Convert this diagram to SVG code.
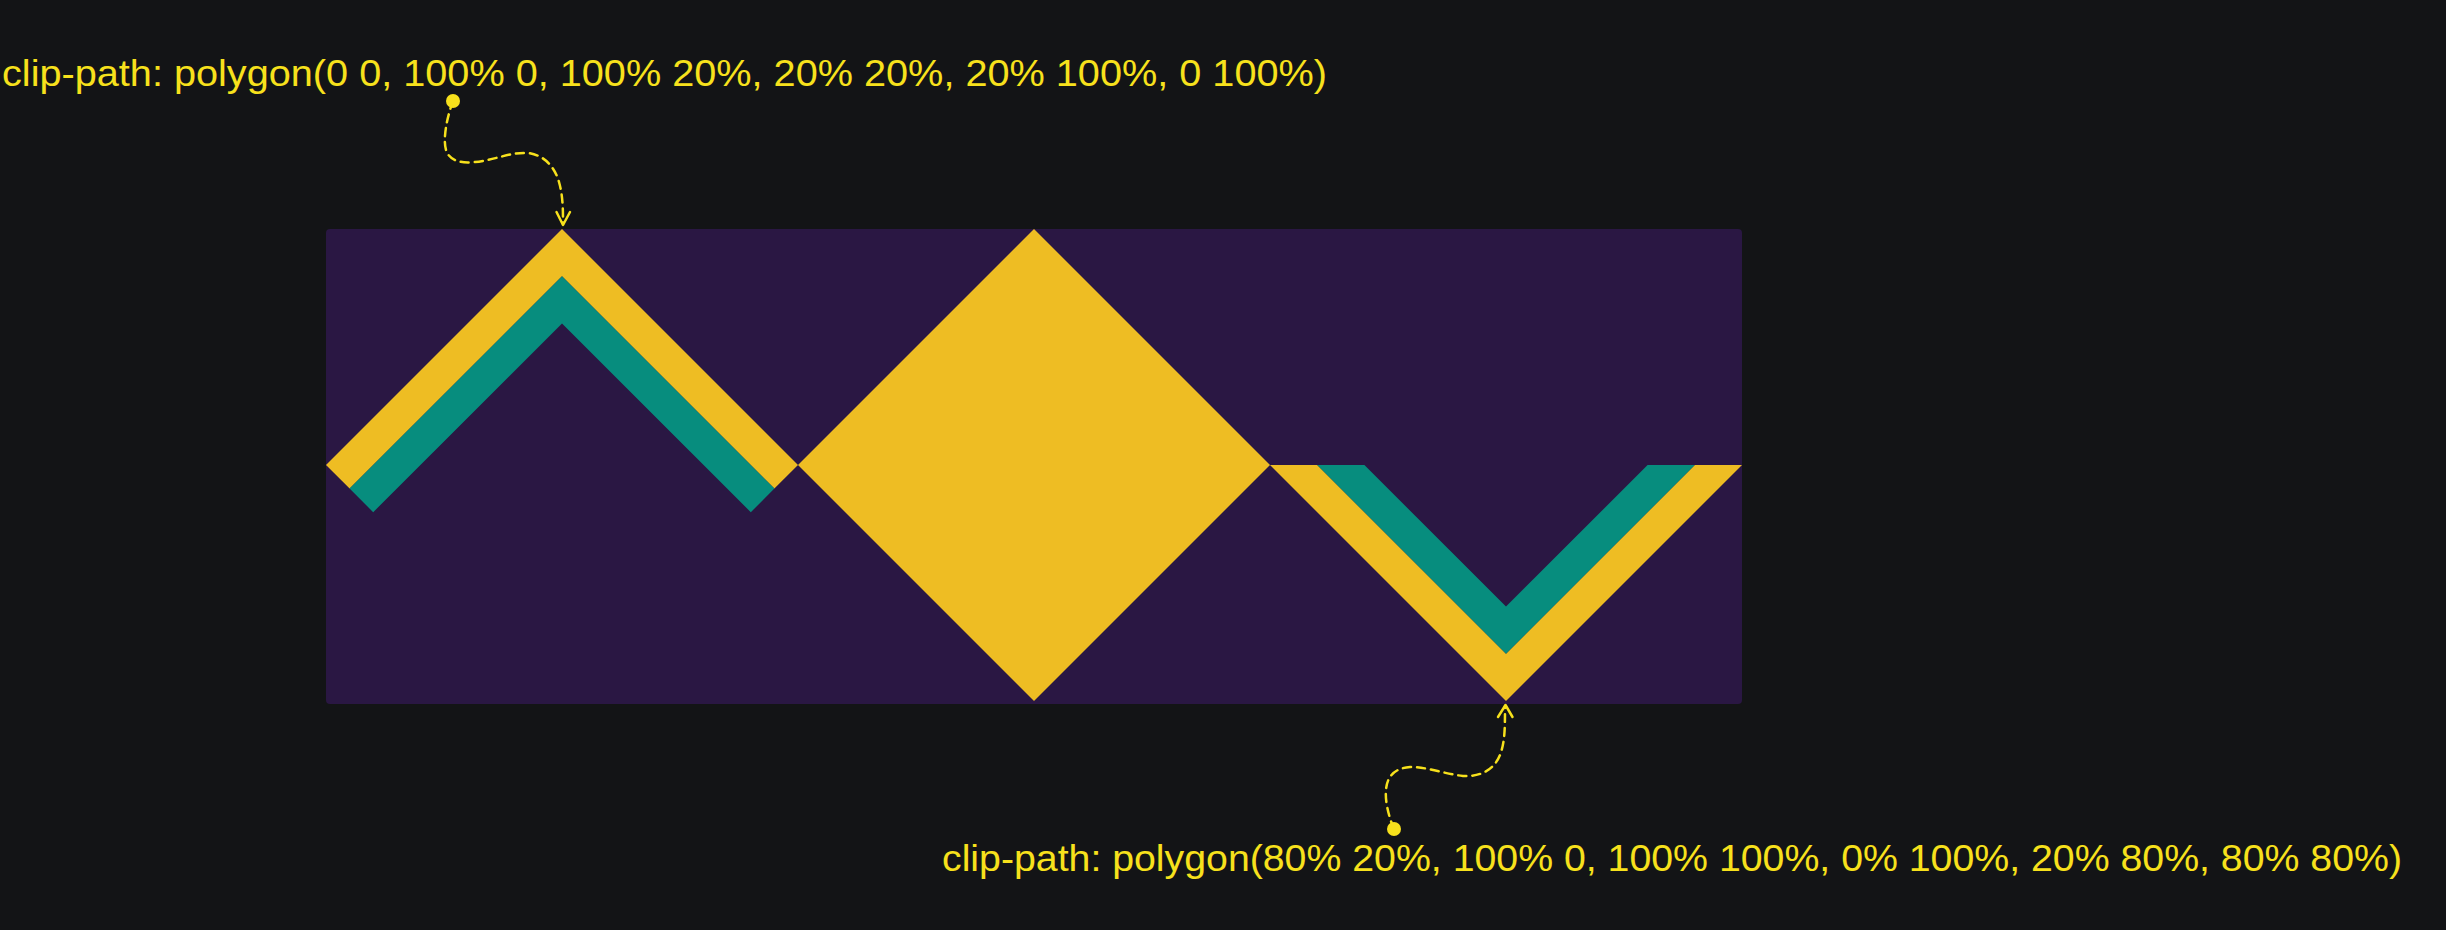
<svg xmlns="http://www.w3.org/2000/svg" width="2446" height="930" viewBox="0 0 2446 930">
  <style>
    .label { font-family: "Liberation Sans", "DejaVu Sans", sans-serif; font-size: 36px; fill: #f7e11c; }
    .conn { fill: none; stroke: #f7e11c; stroke-width: 2.5; stroke-dasharray: 8 6; stroke-linecap: round; }
    .head { fill: none; stroke: #f7e11c; stroke-width: 2.5; stroke-linecap: round; stroke-linejoin: round; }
    .dot { fill: #f7e11c; }
    .yellow { fill: #eebd23; }
    .teal { fill: #078d7e; }
  </style>
  <rect width="2446" height="930" fill="#131416"/>

  <g id="canvas">
    <rect x="326" y="229" width="1416" height="475" rx="4" fill="#2a1743"/>
  </g>

  <g id="shape-chevron">
    <polygon class="yellow" points="326,465 562,229 798,465 774.4,488.6 562,276.2 349.6,488.6"/>
    <polygon class="teal" points="349.6,488.6 562,276.2 774.4,488.6 750.8,512.2 562,323.4 373.2,512.2"/>
  </g>

  <g id="shape-diamond">
    <polygon class="yellow" points="1034,229 1270,465 1034,701 798,465"/>
  </g>

  <g id="shape-v">
    <polygon class="yellow" points="1270,465 1506,701 1742,465 1694.8,465 1506,653.8 1317.2,465"/>
    <polygon class="teal" points="1317.2,465 1506,653.8 1694.8,465 1647.6,465 1506,606.6 1364.4,465"/>
  </g>

  <g id="label-top">
    <text class="label" x="2" y="86" textLength="1325" lengthAdjust="spacingAndGlyphs">clip-path: polygon(0 0, 100% 0, 100% 20%, 20% 20%, 20% 100%, 0 100%)</text>
  </g>

  <g id="label-bottom">
    <text class="label" x="942" y="871" textLength="1460" lengthAdjust="spacingAndGlyphs">clip-path: polygon(80% 20%, 100% 0, 100% 100%, 0% 100%, 20% 80%, 80% 80%)</text>
  </g>

  <g id="connectors">
    <circle class="dot" cx="453" cy="101" r="7"/>
    <path class="conn" d="M453,101 C446,120 443,140 446,150 C449,160 460,164 475,162 C495,160 510,152 528,153 C545,155 555,168 559,182 C563,196 563,210 563,224"/>
    <path class="head" d="M556.5,212 L563,225 L570,212"/>

    <circle class="dot" cx="1394" cy="829" r="7"/>
    <path class="conn" d="M1394,829 C1388,815 1385,800 1386,790 C1387,776 1395,768 1410,767 C1428,767 1445,774 1463,776 C1480,777 1494,770 1500,755 C1505,742 1505,728 1505,706"/>
    <path class="head" d="M1498,717 L1505.5,705 L1512.5,717"/>
  </g>
</svg>
